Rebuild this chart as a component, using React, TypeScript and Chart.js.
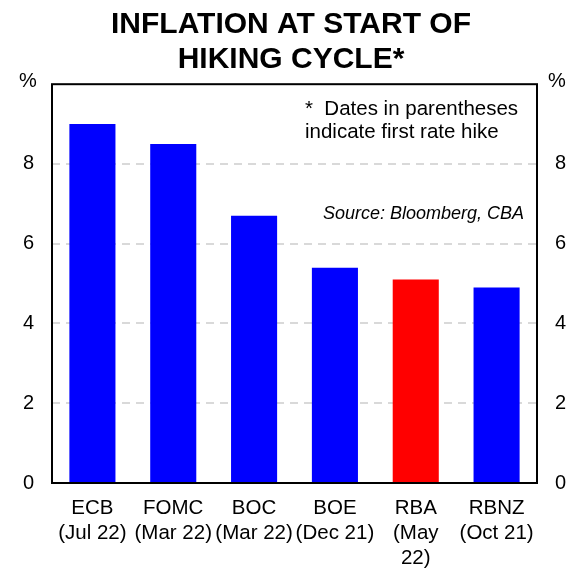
import { useEffect, useRef } from 'react';
import { Chart, registerables, type ChartConfiguration, type Plugin } from 'chart.js';

Chart.register(...registerables);

const BANKS = ['ECB', 'FOMC', 'BOC', 'BOE', 'RBA', 'RBNZ'];
const FIRST_HIKE = [['(Jul 22)'], ['(Mar 22)'], ['(Mar 22)'], ['(Dec 21)'], ['(May', '22)'], ['(Oct 21)']];
const INFLATION = [9.0, 8.5, 6.7, 5.4, 5.1, 4.9];
const BAR_COLORS = ['#0000ff', '#0000ff', '#0000ff', '#0000ff', '#ff0000', '#0000ff'];
const Y_TICKS = [0, 2, 4, 6, 8];
const FONT = '"Liberation Sans", Arial, sans-serif';

// frame, % labels and the two notes
const decor: Plugin<'bar'> = {
  id: 'decor',
  afterDraw(chart) {
    const { ctx, chartArea: a } = chart;
    ctx.save();
    ctx.strokeStyle = '#000';
    ctx.lineWidth = 2;
    ctx.strokeRect(a.left, a.top, a.right - a.left, a.bottom - a.top);

    ctx.fillStyle = '#000';
    ctx.textBaseline = 'middle';
    ctx.font = `20px ${FONT}`;
    ctx.textAlign = 'center';
    ctx.fillText('%', 28, 81);
    ctx.fillText('%', 557, 81);

    ctx.textAlign = 'left';
    ctx.font = `20.5px ${FONT}`;
    ctx.fillText('*  Dates in parentheses', 305, 109);
    ctx.fillText('indicate first rate hike', 305, 132);

    ctx.textAlign = 'right';
    ctx.font = `italic 18px ${FONT}`;
    ctx.fillText('Source: Bloomberg, CBA', 524, 214);
    ctx.restore();
  },
};

export default function App() {
  const canvasRef = useRef<HTMLCanvasElement>(null);
  const chartRef = useRef<Chart | null>(null);

  useEffect(() => {
    const canvas = canvasRef.current;
    if (!canvas) return;
    chartRef.current?.destroy();

    const labels = BANKS.map((b, i) => [b, ...FIRST_HIKE[i]]);
    const tickFont = { family: FONT, size: 20 };
    const showTick = (v: number | string) => (Y_TICKS.includes(Number(v)) ? String(v) : '');

    const config: ChartConfiguration<'bar'> = {
      type: 'bar',
      data: {
        labels,
        datasets: [
          {
            data: INFLATION,
            backgroundColor: BAR_COLORS,
            borderWidth: 0,
            barPercentage: 0.57,
            categoryPercentage: 1,
          },
        ],
      },
      options: {
        responsive: false,
        animation: false,
        layout: { padding: 0 },
        plugins: {
          legend: { display: false },
          tooltip: { enabled: false },
          title: {
            display: true,
            text: ['INFLATION AT START OF', 'HIKING CYCLE*'],
            color: '#000',
            font: { family: FONT, size: 30, weight: 'bold', lineHeight: 1.17 },
            padding: { top: 7, bottom: 7 },
          },
        },
        scales: {
          x: {
            grid: { display: false, drawTicks: false },
            border: { display: false },
            ticks: {
              color: '#000',
              font: { family: FONT, size: 20.5, lineHeight: 1.22 },
              padding: 13,
              maxRotation: 0,
              autoSkip: false,
            },
            afterFit: (s) => { s.height = 87; },
          },
          y: {
            min: 0,
            max: 10,
            position: 'left',
            border: { display: false, dash: [8, 6] },
            grid: {
              drawTicks: false,
              lineWidth: 2,
              color: (c) => (c.tick && c.tick.value > 0 && c.tick.value < 10 ? '#d9d9d9' : 'rgba(0,0,0,0)'),
            },
            ticks: { stepSize: 2, color: '#000', font: tickFont, padding: 18, callback: showTick },
            afterFit: (s) => { s.width = 52; },
          },
          y2: {
            min: 0,
            max: 10,
            position: 'right',
            border: { display: false },
            grid: { display: false, drawTicks: false },
            ticks: { stepSize: 2, color: '#000', font: tickFont, padding: 18, callback: showTick },
            afterFit: (s) => { s.width = 45; },
          },
        },
      },
      plugins: [decor],
    };

    chartRef.current = new Chart(canvas, config);
    return () => { chartRef.current?.destroy(); chartRef.current = null; };
  }, []);

  return (
    <div style={{ position: 'absolute', left: 0, top: 0, width: 582, height: 570, background: '#fff' }}>
      <canvas ref={canvasRef} width={582} height={570} style={{ width: 582, height: 570 }} />
    </div>
  );
}
